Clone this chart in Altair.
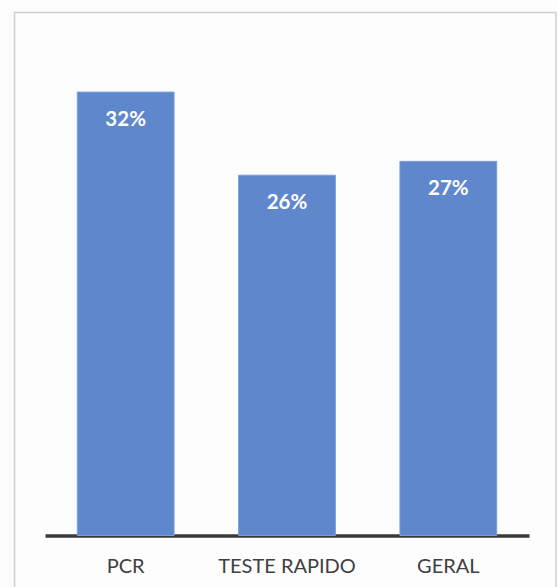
import altair as alt
import pandas as pd

categories = ["PCR", "TESTE RAPIDO", "GERAL"]
values = [32, 26, 27]
labels = ["32%", "26%", "27%"]

df = pd.DataFrame({"cat": categories, "val": values, "lab": labels})

FONT = "Lato"

x_enc = alt.X("cat:N", sort=categories, title=None,
              scale=alt.Scale(paddingInner=0.4, paddingOuter=0.2),
              axis=alt.Axis(labelAngle=0, labelFont=FONT, labelFontSize=20,
                            labelColor="#404040", labelPadding=21,
                            domainColor="#3a3a3a", domainWidth=3.5,
                            ticks=False, grid=False))
y_enc = alt.Y("val:Q", title=None, scale=alt.Scale(domain=[0, 35], nice=False),
              axis=None)

base = alt.Chart(df)

bars = base.mark_bar(color="#5F87CC", stroke="#7B9FDD", strokeWidth=1).encode(
    x=x_enc, y=y_enc)

text = base.mark_text(color="white", font=FONT, fontSize=20.5, fontWeight="bold",
                      baseline="middle", dy=28).encode(
    x=alt.X("cat:N", sort=categories), y="val:Q", text="lab:N")

border = alt.Chart(pd.DataFrame({"a": [0]})).mark_rect(
    fill=None, stroke="#cfcfcf", strokeWidth=1.5, clip=False).encode(
    x=alt.value(-30.5), x2=alt.value(511), y=alt.value(-38), y2=alt.value(600))

chart = alt.layer(border, bars, text).properties(
    width=484, height=485,
    autosize=alt.AutoSizeParams(type="none"),
    padding={"left": 45, "top": 50.5, "right": 29, "bottom": 52},
    background="#fdfdfd",
).configure_view(stroke=None)

chart.save("out.html", embed_options={"renderer": "svg", "actions": False})
